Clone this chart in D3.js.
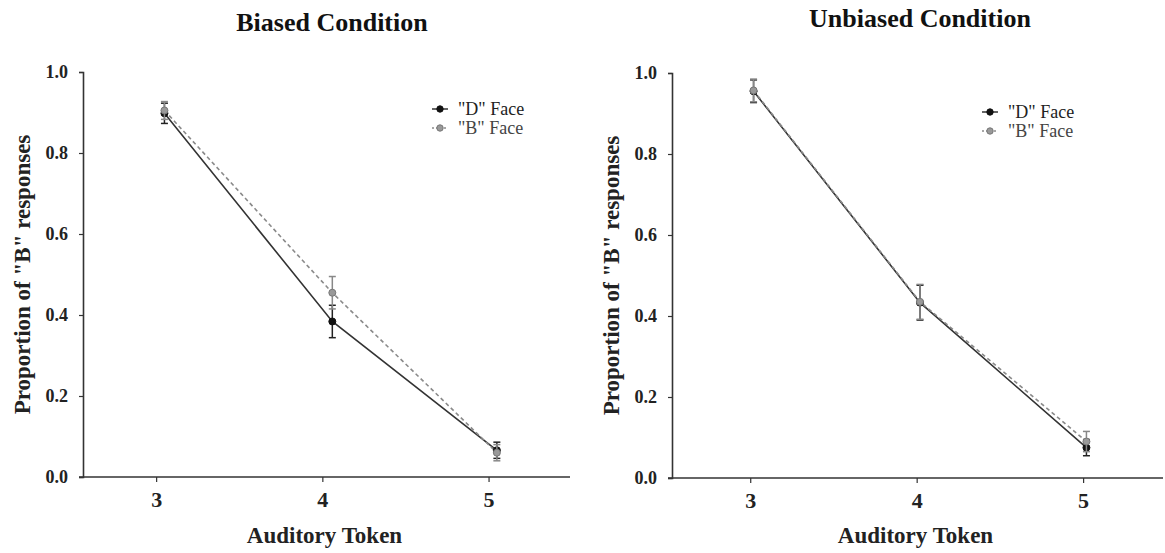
<!DOCTYPE html>
<html><head><meta charset="utf-8">
<script src="https://cdn.jsdelivr.net/npm/d3@7/dist/d3.min.js"></script>
<style>
body{margin:0;background:#fff;}
svg{display:block;font-family:"Liberation Serif","Times New Roman",serif;}
</style></head>
<body><svg id="c" width="1165" height="553"></svg>
<script>
// ---- data ----
const tokens = [3, 4, 5];
const tickLabels = ["3", "4", "5"];
const yTicks = [0, 0.2, 0.4, 0.6, 0.8, 1.0];
const seriesNames = ['"D" Face', '"B" Face'];
const panelTitles = ["Biased Condition", "Unbiased Condition"];
// x positions of points (slightly jittered right of token, as in source)
const biasedX = [3.05, 4.06, 5.05];
const unbiasedX = [3.02, 4.02, 5.02];
const biasedD = [0.898, 0.384, 0.066];
const biasedDErr = [0.025, 0.040, 0.020];
const biasedB = [0.905, 0.455, 0.060];
const biasedBErr = [0.022, 0.040, 0.020];
const unbiasedD = [0.955, 0.433, 0.075];
const unbiasedDErr = [0.028, 0.043, 0.020];
const unbiasedB = [0.957, 0.435, 0.090];
const unbiasedBErr = [0.028, 0.043, 0.025];

const svg = d3.select("#c");

const panels = [
  {title: panelTitles[0], xs: biasedX, d: biasedD, de: biasedDErr, b: biasedB, be: biasedBErr,
   left: 83, right: 570, top: 72, bottom: 477, xDom: [2.56, 5.49], titleX: 332, titleY: 31, legX: 440, legY: 109},
  {title: panelTitles[1], xs: unbiasedX, d: unbiasedD, de: unbiasedDErr, b: unbiasedB, be: unbiasedBErr,
   left: 672, right: 1163, top: 73, bottom: 478, xDom: [2.53, 5.48], titleX: 920, titleY: 27, legX: 990, legY: 112}
];

const styles = [
  {line: "#333", dash: null, fill: "#111", stroke: "#111", err: "#222", text: "#222"},
  {line: "#8a8a8a", dash: "4,3", fill: "#999", stroke: "#777", err: "#888", text: "#444"}
];

panels.forEach(p => {
  const g = svg.append("g");
  const x = d3.scaleLinear().domain(p.xDom).range([p.left, p.right]);
  const y = d3.scaleLinear().domain([0, 1]).range([p.bottom, p.top]);

  // axes
  const xa = g.append("g").attr("transform", `translate(0,${p.bottom})`)
    .call(d3.axisBottom(x).tickValues(tokens).tickFormat((d,i)=>tickLabels[i]).tickSizeOuter(0).tickSize(5).tickPadding(9));
  xa.select(".domain").attr("stroke", "#333").attr("stroke-width", 1.6).attr("d", `M${p.left-4},0H${p.right}`);
  xa.selectAll(".tick line").attr("stroke", "#333").attr("stroke-width", 1.2);
  xa.selectAll(".tick text").attr("font-size", 22).attr("font-weight", "bold").attr("fill", "#222")
    .attr("font-family", "Liberation Serif, serif");

  const ya = g.append("g").attr("transform", `translate(${p.left},0)`)
    .call(d3.axisLeft(y).tickValues(yTicks).tickFormat(d3.format(".1f")).tickSizeOuter(0).tickSize(4).tickPadding(11));
  ya.select(".domain").attr("stroke", "#333").attr("stroke-width", 1.6);
  ya.selectAll(".tick line").attr("stroke", "#333").attr("stroke-width", 1.2);
  ya.selectAll(".tick text").attr("font-size", 18).attr("font-weight", "bold").attr("fill", "#222")
    .attr("font-family", "Liberation Serif, serif");

  // titles & labels
  g.append("text").attr("x", p.titleX).attr("y", p.titleY)
    .attr("text-anchor", "middle").attr("font-size", 26).attr("font-weight", "bold").attr("fill", "#111")
    .text(p.title);
  g.append("text").attr("x", (p.left + p.right) / 2 - 2).attr("y", 543)
    .attr("text-anchor", "middle").attr("font-size", 23).attr("font-weight", "bold").attr("fill", "#222")
    .text("Auditory Token");
  g.append("text").attr("transform", `translate(${p.left - 53},${(p.top + p.bottom) / 2}) rotate(-90)`)
    .attr("text-anchor", "middle").attr("font-size", 23).attr("font-weight", "bold").attr("fill", "#222")
    .text('Proportion of "B" responses');

  const series = [{v: p.d, e: p.de, s: styles[0]}, {v: p.b, e: p.be, s: styles[1]}];
  const line = d3.line().x(d => x(d.x)).y(d => y(d.y));
  series.forEach(se => {
    const pts = se.v.map((v, i) => ({x: p.xs[i], y: v, e: se.e[i]}));
    g.append("path").datum(pts).attr("d", line).attr("fill", "none")
      .attr("stroke", se.s.line).attr("stroke-width", 1.6)
      .attr("stroke-dasharray", se.s.dash);
  });
  series.forEach(se => {
    const pts = se.v.map((v, i) => ({x: p.xs[i], y: v, e: se.e[i]}));
    const eb = g.append("g");
    pts.forEach(d => {
      const cx = x(d.x);
      eb.append("line").attr("x1", cx).attr("x2", cx).attr("y1", y(d.y - d.e)).attr("y2", y(d.y + d.e))
        .attr("stroke", se.s.err).attr("stroke-width", 1.5);
      [d.y - d.e, d.y + d.e].forEach(v => {
        eb.append("line").attr("x1", cx - 3.5).attr("x2", cx + 3.5).attr("y1", y(v)).attr("y2", y(v))
          .attr("stroke", se.s.err).attr("stroke-width", 1.5);
      });
      eb.append("circle").attr("cx", cx).attr("cy", y(d.y)).attr("r", 3.5)
        .attr("fill", se.s.fill).attr("stroke", se.s.stroke).attr("stroke-width", 1);
    });
  });

  // legend
  const lg = g.append("g");
  seriesNames.forEach((name, i) => {
    const s = styles[i];
    const ly = p.legY + i * 19;
    lg.append("line").attr("x1", p.legX - 8).attr("x2", p.legX + 8).attr("y1", ly).attr("y2", ly)
      .attr("stroke", s.line).attr("stroke-width", 1.5).attr("stroke-dasharray", s.dash ? "2,2" : null);
    lg.append("circle").attr("cx", p.legX).attr("cy", ly).attr("r", 3.2)
      .attr("fill", s.fill).attr("stroke", s.stroke);
    lg.append("text").attr("x", p.legX + 18).attr("y", ly + 6).attr("font-size", 18)
      .attr("fill", s.text).text(name);
  });
});
</script></body></html>
